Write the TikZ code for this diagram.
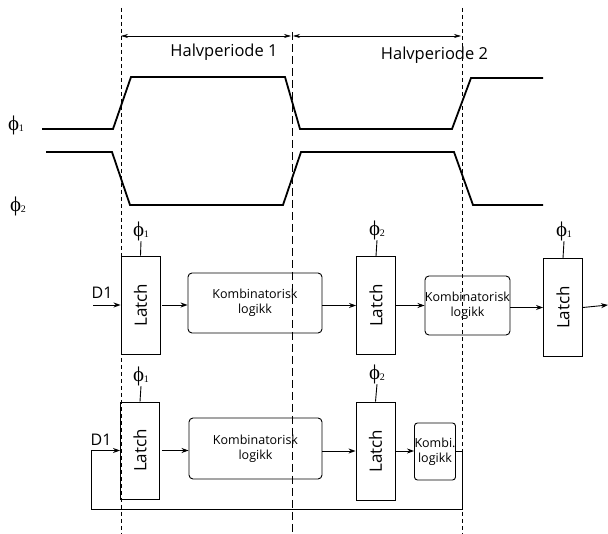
\documentclass[tikz,border=0pt]{standalone}
\usepackage{fontspec}
\setmainfont{Open Sans}
\newfontfamily\phifont{Liberation Serif}
\usetikzlibrary{arrows.meta}
\newcommand{\ph}[1]{{\phifont\fontsize{21}{21}\selectfont ϕ\kern-0.5pt\raisebox{-1pt}{\fontsize{10}{10}\selectfont#1}}}
\tikzset{
  latch/.style={draw,line width=0.9pt,minimum width=39pt,minimum height=98pt,inner sep=0pt,
    font=\fontsize{17}{17}\selectfont},
  komb/.style={draw,line width=0.9pt,rounded corners=4pt,align=center,inner sep=0pt,
    font=\fontsize{12.5}{15}\selectfont},
  sig/.style={line width=0.9pt,-{Stealth[length=7pt,width=5pt]}},
  wave/.style={line width=1.8pt},
  fase/.style={inner sep=0pt,minimum height=20pt},
}

\begin{document}
\begin{tikzpicture}[x=1pt,y=-1pt]
  \useasboundingbox (0,0) rectangle (608,534);

  \coordinate (g1t) at (121,8);   \coordinate (g1b) at (121,534);
  \coordinate (g2t) at (292,32);  \coordinate (g2b) at (292,534);
  \coordinate (g3t) at (462,8);   \coordinate (g3b) at (462,534);
  \draw[line width=0.7pt,dash pattern=on 4pt off 3pt] (g1t) -- (g1b);
  \draw[line width=0.9pt,dash pattern=on 8pt off 4pt] (g2t) -- (g2b);
  \draw[line width=0.7pt,dash pattern=on 4pt off 3pt] (g3t) -- (g3b);

  \coordinate (h1) at (121,36); \coordinate (h2) at (291,36);
  \coordinate (h3) at (293,36); \coordinate (h4) at (461,36);
  \draw[line width=0.6pt,{Stealth[length=7pt,width=4pt]}-{Stealth[length=7pt,width=4pt]}] (h1) -- (h2);
  \draw[line width=0.6pt,{Stealth[length=7pt,width=4pt]}-{Stealth[length=7pt,width=4pt]}] (h3) -- (h4);
  \node[font=\fontsize{16.5}{16.5}\selectfont] (hp1) at (224,52) {Halvperiode 1};
  \node[font=\fontsize{16.5}{16.5}\selectfont] (hp2) at (434.5,55) {Halvperiode 2};

  \node (f1) at (16,125) {\ph{1}};
  \node (f2) at (18,206) {\ph{2}};
  \draw[wave] (42,129) -- (113,129) -- (131,77) -- (285,77) -- (300,129) -- (452,129) -- (471,78) -- (543,78);
  \draw[wave] (46,152) -- (112,152) -- (130,205) -- (283,205) -- (301,152) -- (454,152) -- (473,205) -- (543,205);

  \node[latch] (l1) at (140.5,305) {\rotatebox{90}{Latch}};
  \node[komb,minimum width=134pt,minimum height=60pt] (k1) at (255,303) {Kombinatorisk\\logikk};
  \node[latch] (l2) at (376,305.5) {\rotatebox{90}{Latch}};
  \node[komb,minimum width=85pt,minimum height=59pt] (k2) at (467.5,305.5) {Kombinatorisk\\logikk};
  \node[latch] (l3) at (563,307.5) {\rotatebox{90}{Latch}};
  \node[fase] (p1) at (141,231) {\ph{1}};
  \node[fase] (p2) at (377,230) {\ph{2}};
  \node[fase] (p3) at (564,231) {\ph{1}};
  \draw[line width=0.9pt] (l1.north) -- (p1.south);
  \draw[line width=0.9pt] (l2.north) -- (p2.south);
  \draw[line width=0.9pt] (l3.north) -- (p3.south);
  \node[font=\fontsize{16}{16}\selectfont] (d1) at (102,293) {D1};
  \coordinate (din) at (93,305);
  \coordinate (dout) at (608,305);
  \draw[sig] (din) -- (l1.west);
  \draw[sig] (l1.east) ++(2,0) -- (k1.west |- l1.east);
  \draw[sig] (k1.east |- l2.west) -- (l2.west);
  \draw[sig] (l2.east) -- (k2.west |- l2.east);
  \draw[sig] (k2.east |- l3.west) -- (l3.west);
  \draw[sig] (l3.east) -- (dout);

  \node[latch,minimum height=97pt] (l1b) at (140,450.5) {\rotatebox{90}{Latch}};
  \node[komb,minimum width=133pt,minimum height=61pt] (k1b) at (255.5,448.5) {Kombinatorisk\\logikk};
  \node[latch] (l2b) at (375.5,451) {\rotatebox{90}{Latch}};
  \node[komb,minimum width=38pt,minimum height=57pt,rounded corners=3pt] (k2b) at (435,451.5) {Kombi.\\logikk};
  \node[fase] (p1b) at (141,376) {\ph{1}};
  \node[fase] (p2b) at (377,374) {\ph{2}};
  \draw[line width=0.9pt] (l1b.north) -- (p1b.south);
  \draw[line width=0.9pt] (l2b.north) -- (p2b.south);
  \node[font=\fontsize{16}{16}\selectfont] (d1b) at (101,440) {D1};
  \coordinate (fbr) at (462,509);
  \coordinate (fbl) at (91,509);
  \draw[sig] (k2b.east) -| (fbr) -- (fbl) |- (l1b.west);
  \draw[sig] (l1b.east) ++(2,0) -- (k1b.west |- l1b.east);
  \draw[sig] (k1b.east |- l2b.west) -- (l2b.west);
  \draw[sig] (l2b.east) -- (k2b.west |- l2b.east);
\end{tikzpicture}
\end{document}
